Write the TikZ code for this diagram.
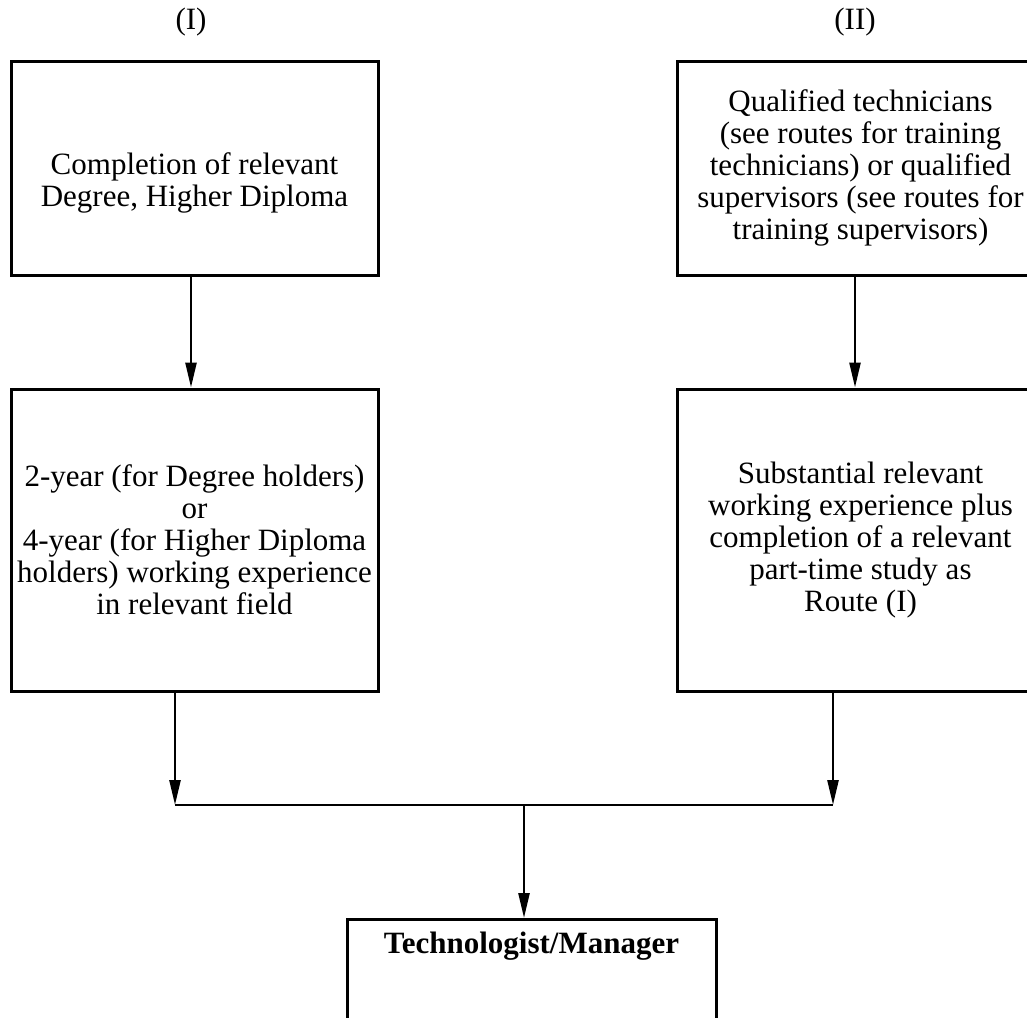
\documentclass[tikz,border=0pt]{standalone}
\usepackage{fontspec}
\setmainfont{Liberation Serif}
\usetikzlibrary{arrows.meta, positioning}

\begin{document}
\begin{tikzpicture}[x=1pt, y=-1pt,
  box/.style={draw, line width=3pt, align=center, minimum width=367pt, inner sep=0pt, font=\fontsize{31}{32}\selectfont},
  lab/.style={font=\fontsize{31}{32}\selectfont, inner sep=0pt},
  conn/.style={line width=2.5pt, -{Triangle[length=25pt, width=11pt]}}
]
\useasboundingbox (0,0) rectangle (1027,1017);
\clip (0,0) rectangle (1027,1017);
\node[lab] (l1) at (191,22) {(I)};
\node[lab] (l2) at (855,22) {(II)};
\node[box, minimum height=214pt] (b1) at (194.5,168) {\rule{0pt}{52pt}Completion of relevant\\Degree, Higher Diploma};
\node[box, minimum height=214pt] (b2) at (860.5,168) {Qualified technicians\\(see routes for training\\technicians) or qualified\\supervisors (see routes for\\training supervisors)};
\node[box, minimum height=302pt] (b3) at (194.5,540) {2-year (for Degree holders)\\or\\4-year (for Higher Diploma\\holders) working experience\\in relevant field};
\node[box, minimum height=302pt] (b4) at (860.5,540) {Substantial relevant\\working experience plus\\completion of a relevant\\part-time study as\\Route (I)};
\node[box, anchor=north, minimum width=369pt, text height=34pt, text depth=80pt, font=\fontsize{31}{32}\selectfont\bfseries] (tm) at (531.5,918) {Technologist/Manager};
\coordinate (jl) at (175,805);
\coordinate (jr) at (833,805);
\coordinate (jm) at (524,805);
\draw[conn] ([xshift=-3.5pt]b1.south) -- ([xshift=-3.5pt]b3.north);
\draw[conn] ([xshift=-5.5pt]b2.south) -- ([xshift=-5.5pt]b4.north);
\draw[conn] (jl |- b3.south) -- (jl);
\draw[conn] (jr |- b4.south) -- (jr);
\draw[line width=2.5pt] (jl) -- (jr);
\draw[conn] (jm) -- (jm |- tm.north);
\end{tikzpicture}
\end{document}
